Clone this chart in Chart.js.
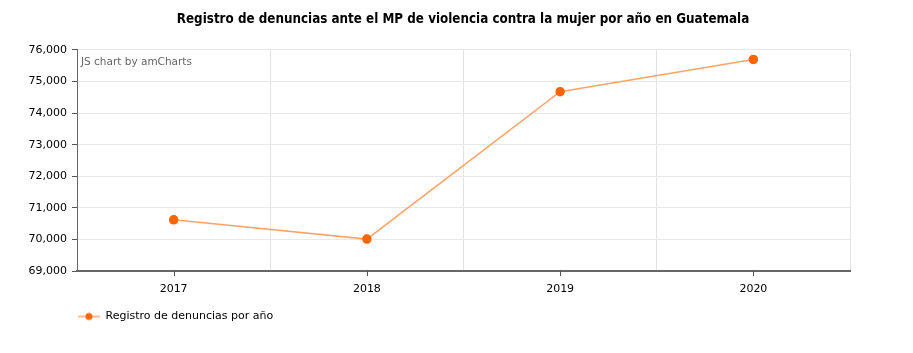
<!DOCTYPE html>
<html lang="es">
<head>
    <meta charset="UTF-8">
    <title>Registro de denuncias</title>
    <script src="https://cdn.jsdelivr.net/npm/chart.js"></script>
</head>
<style>
    body { margin: 0; background: #fff; }
    #wrap { width: 913px; height: 353px; }
</style>
<body>
    <div id="wrap"><canvas id="myLineChart"></canvas></div>

    <script>
        // data
        var years = ['2017', '2018', '2019', '2020'];
        var denuncias = [70620, 70010, 74680, 75700];
        var yTicks = [69000, 70000, 71000, 72000, 73000, 74000, 75000, 76000];

        var lineColor = '#ffa469';
        var dotColor = '#ff6600';

        // legend marker: short line with a dot, blank space on the left pushes it under the axis
        var marker = document.createElement('canvas');
        marker.width = 77; marker.height = 10;
        var m = marker.getContext('2d');
        m.strokeStyle = lineColor; m.lineWidth = 1.5;
        m.beginPath(); m.moveTo(55, 5); m.lineTo(77, 5); m.stroke();
        m.fillStyle = dotColor;
        m.beginPath(); m.arc(66, 5, 3.5, 0, Math.PI * 2); m.fill();

        // tick marks under each year + amCharts watermark
        var extras = {
            id: 'extras',
            afterDraw: function(chart) {
                var c = chart.ctx, x = chart.scales.x, area = chart.chartArea;
                c.save();
                c.strokeStyle = '#555'; c.lineWidth = 1;
                years.forEach(function(y, i) {
                    var px = Math.round(x.getPixelForValue(i)) + 0.5;
                    c.beginPath(); c.moveTo(px, area.bottom); c.lineTo(px, area.bottom + 5); c.stroke();
                });
                c.fillStyle = '#666';
                c.font = '10.5px "DejaVu Sans"';
                c.textBaseline = 'middle';
                c.fillText('JS chart by amCharts', area.left + 4, area.top + 12);
                c.restore();
            }
        };

        var ctx = document.getElementById('myLineChart').getContext('2d');
        var myLineChart = new Chart(ctx, {
            type: 'line',
            data: {
                labels: years,
                datasets: [{
                    label: 'Registro de denuncias por año',
                    data: denuncias,
                    borderColor: lineColor,
                    backgroundColor: dotColor,
                    borderWidth: 1.5,
                    pointRadius: 4,
                    pointBackgroundColor: dotColor,
                    pointBorderColor: dotColor,
                    tension: 0
                }]
            },
            options: {
                responsive: true,
                maintainAspectRatio: false,
                animation: false,
                layout: { padding: { left: 13, right: 0, bottom: 21 } },
                plugins: {
                    title: {
                        display: true,
                        text: 'Registro de denuncias ante el MP de violencia contra la mujer por año en Guatemala',
                        color: '#000',
                        font: { family: '"DejaVu Sans Condensed"', size: 13.3, weight: 'bold' },
                        padding: { top: 12, bottom: 22 }
                    },
                    legend: {
                        position: 'bottom',
                        align: 'start',
                        labels: {
                            usePointStyle: true,
                            pointStyle: marker,
                            pointStyleWidth: 77,
                            color: '#000',
                            padding: 10,
                            font: { family: '"DejaVu Sans"', size: 11 }
                        }
                    },
                    tooltip: { enabled: false }
                },
                scales: {
                    x: {
                        offset: true,
                        grid: { offset: true, color: '#e3e3e3', drawTicks: false },
                        border: { color: '#666', width: 2 },
                        ticks: { color: '#000', padding: 12, font: { family: '"DejaVu Sans"', size: 11 } },
                        afterFit: function(s) { s.height = 30; }
                    },
                    y: {
                        min: 69000,
                        max: 76000,
                        afterBuildTicks: function(s) { s.ticks = yTicks.map(function(v) { return { value: v }; }); },
                        grid: { color: '#e8e8e8', tickColor: '#555', tickLength: 5 },
                        border: { color: '#666', width: 1 },
                        ticks: { color: '#000', padding: 5, font: { family: '"DejaVu Sans"', size: 11 } },
                        afterFit: function(s) { s.width = 64; }
                    },
                    // empty right-hand axis, only reserves the margin right of the plot
                    yRight: {
                        position: 'right',
                        min: 69000,
                        max: 76000,
                        grid: { display: false },
                        border: { display: false },
                        ticks: { display: false },
                        afterFit: function(s) { s.width = 63; }
                    }
                }
            },
            plugins: [extras]
        });
    </script>
</body>
</html>
